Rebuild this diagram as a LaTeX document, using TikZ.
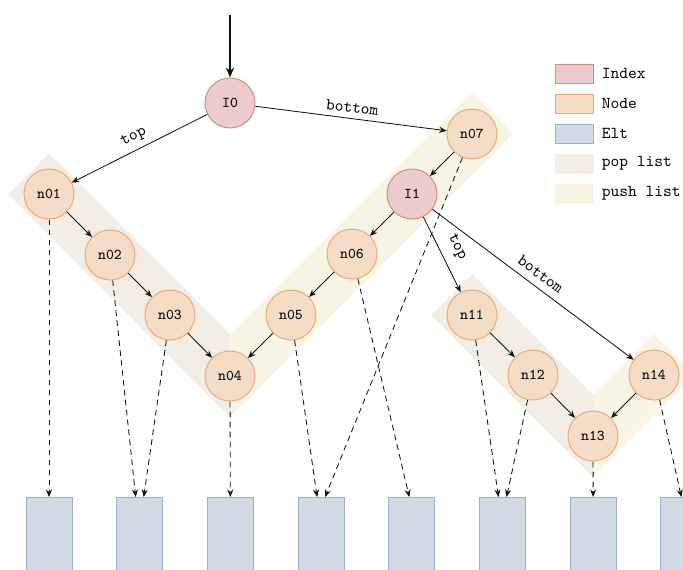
\documentclass[tikz,border=0pt]{standalone}
\usepackage{tikz}
\usepackage{xcolor}
\usetikzlibrary{positioning,arrows.meta,calc}
\definecolor{ink}{HTML}{111111}
\definecolor{idxfill}{HTML}{EBCBCB}
\definecolor{idxline}{HTML}{D98A88}
\definecolor{nodefill}{HTML}{F5DCC7}
\definecolor{nodeline}{HTML}{EDAA75}
\definecolor{eltfill}{HTML}{D2DAE6}
\definecolor{eltline}{HTML}{9DB0CE}
\definecolor{popc}{HTML}{F3EDE5}
\definecolor{pushc}{HTML}{F8F5E4}

\begin{document}
\begin{tikzpicture}[
  x=0.6pt, y=-0.6pt,
  font=\ttfamily,
  >={Stealth[length=4.5pt,width=3.6pt]},
  idx/.style={
    circle, draw=idxline, fill=idxfill, line width=0.6pt,
    minimum size=30pt, inner sep=0pt, font=\small\ttfamily
  },
  lnode/.style={idx, draw=nodeline, fill=nodefill},
  elt/.style={
    rectangle, draw=eltline, fill=eltfill, line width=0.6pt,
    minimum width=27.6pt, minimum height=48pt, inner sep=0pt, anchor=north
  },
  link/.style={->, draw=ink, line width=0.5pt},
  ptr/.style={->, draw=ink, line width=0.5pt, dash pattern=on 3.5pt off 2.5pt},
  lab/.style={font=\ttfamily, midway, sloped, above},
  keybox/.style={rectangle, minimum width=22.8pt, minimum height=11.4pt, inner sep=0pt, line width=0.6pt}
]
\useasboundingbox (0,0) rectangle (683,569);
\clip (0,0) rectangle (683,569);

% List bands
\fill[popc]  (8,194) -- (49,153) -- (230,334) -- (230,417) -- cycle;
\fill[pushc] (230,335) -- (472,93) -- (513,134) -- (230,417) -- cycle;
\fill[popc]  (431,315) -- (472,274) -- (593,395) -- (593,477) -- cycle;
\fill[pushc] (593,395) -- (654,334) -- (695,375) -- (593,477) -- cycle;

% Index nodes
\node[idx] (I0) at (230,103) {I0};
\node[idx] (I1) at (412,194) {I1};

% List nodes
\node[lnode] (n01) at (49,194) {n01};
\node[lnode] (n02) at (110,255) {n02};
\node[lnode] (n03) at (170,315) {n03};
\node[lnode] (n04) at (230,376) {n04};
\node[lnode] (n05) at (291,315) {n05};
\node[lnode] (n06) at (352,254) {n06};
\node[lnode] (n07) at (472,134) {n07};
\node[lnode] (n11) at (472,315) {n11};
\node[lnode] (n12) at (533,375) {n12};
\node[lnode] (n13) at (593,436) {n13};
\node[lnode] (n14) at (654,375) {n14};

% Elements
\foreach \i in {0,...,7} {
  \node[elt] (e\i) at (49+90.7*\i,497) {};
}

% Entry
\coordinate (entry) at (230,15);
\draw[->, draw=ink, line width=1pt, >={Stealth[length=6pt,width=5pt]}] (entry) -- (I0);

% Index links
\draw[link] (I0) -- node[lab] {top} (n01);
\draw[link] (I0) -- node[lab] {bottom} (n07);
\draw[link] (I1) -- node[lab, above=2.5pt] {top} (n11);
\draw[link] (I1) -- node[lab, above=1pt] {bottom} (n14);

% List links
\foreach \a/\b in {n01/n02, n02/n03, n03/n04, n07/I1, I1/n06, n06/n05, n05/n04, n11/n12, n12/n13, n14/n13} {
  \draw[link] (\a) -- (\b);
}

% Element pointers
\draw[ptr] (n01) -- (e0);
\draw[ptr] (n02) -- ([xshift=-2.4pt]e1.north);
\draw[ptr] (n03) -- ([xshift=2.4pt]e1.north);
\draw[ptr] (n04) -- (e2);
\draw[ptr] (n05) -- ([xshift=-2.4pt]e3.north);
\draw[ptr] (n07) -- ([xshift=2.4pt]e3.north);
\draw[ptr] (n06) -- ([xshift=-1.5pt]e4.north);
\draw[ptr] (n11) -- ([xshift=-2.4pt]e5.north);
\draw[ptr] (n12) -- ([xshift=2.4pt]e5.north);
\draw[ptr] (n13) -- (e6);
\draw[ptr] (n14) -- ([xshift=-1.5pt]e7.north);

% Legend
\foreach \fc/\dc/\txt [count=\i] in {idxfill/idxline/Index, nodefill/nodeline/Node, eltfill/eltline/Elt, popc/popc/pop list, pushc/pushc/push list} {
  \node[keybox, fill=\fc, draw=\dc] (key\i) at (574,43.5+30*\i) {};
  \node[right=1.5pt of key\i] (keytxt\i) {\txt};
}

\end{tikzpicture}
\end{document}
